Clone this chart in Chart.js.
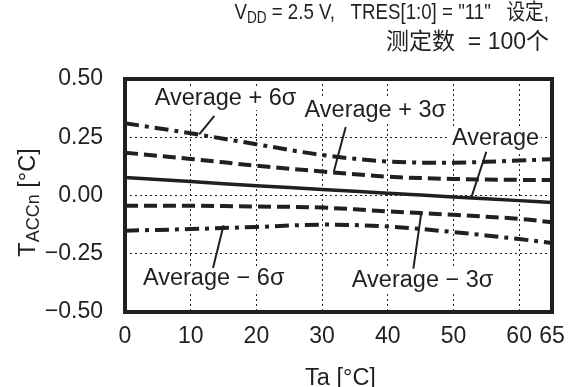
<!DOCTYPE html>
<html>
<head>
<meta charset="utf-8">
<script src="https://cdn.jsdelivr.net/npm/chart.js@4"></script>
<style>
  body { margin: 0; background: #fff; }
  #wrap { width: 579px; height: 387px; }
</style>
</head>
<body>
<div id="wrap"><canvas id="chart"></canvas></div>
<script>
// ── data (Ta in °C, T_ACCn in °C) ──
const temps   = [0, 10, 20, 30, 40, 50, 60, 65];
const plus6   = [0.310, 0.267, 0.220, 0.174, 0.146, 0.141, 0.150, 0.156];
const plus3   = [0.184, 0.157, 0.128, 0.103, 0.081, 0.071, 0.067, 0.067];
const average = [0.077, 0.060, 0.042, 0.026, 0.010, -0.006, -0.022, -0.030];
const minus3  = [-0.044, -0.044, -0.047, -0.052, -0.068, -0.083, -0.100, -0.115];
const minus6  = [-0.151, -0.144, -0.135, -0.125, -0.133, -0.157, -0.187, -0.204];

const xTicks = [0, 10, 20, 30, 40, 50, 60, 65];
const yTicks = [-0.50, -0.25, 0.00, 0.25, 0.50];

// labels with leader lines, in data units
const notes = [
  { text: 'Average + 6\u03c3', x: 15.3, y: 0.418, from: [13.6, 0.342], to: [11.3, 0.262] },
  { text: 'Average + 3\u03c3', x: 38.1, y: 0.363, from: [33.6, 0.294], to: [31.8, 0.104] },
  { text: 'Average',           x: 56.4, y: 0.243, from: [55.0, 0.188], to: [52.7, -0.010] },
  { text: 'Average \u2212 6\u03c3', x: 13.5, y: -0.357, from: [13.4, -0.311], to: [15.0, -0.128] },
  { text: 'Average \u2212 3\u03c3', x: 45.3, y: -0.365, from: [43.9, -0.314], to: [45.1, -0.075] },
];

const FONT = '"Liberation Sans", Arial, "Noto Sans CJK SC", sans-serif';
const INK = '#231f20';

const pts = arr => temps.map((t, i) => ({ x: t, y: arr[i] }));
const line = (data, dash, width) => ({
  data: pts(data), borderColor: INK, borderWidth: width, borderDash: dash,
  pointRadius: 0, tension: 0.35, fill: false,
});

const decor = {
  id: 'decor',
  beforeDatasetsDraw(chart) {
    const { ctx, scales: { x, y } } = chart;
    ctx.save();
    ctx.font = '23.5px ' + FONT;
    ctx.textAlign = 'center';
    ctx.textBaseline = 'middle';
    notes.forEach(n => {
      const px = x.getPixelForValue(n.x), py = y.getPixelForValue(n.y);
      const w = ctx.measureText(n.text).width;
      ctx.fillStyle = '#fff';
      ctx.fillRect(px - w / 2 - 2, py - 12, w + 4, 24);
      ctx.fillStyle = INK;
      ctx.fillText(n.text, px, py);
    });
    ctx.restore();
  },
  afterDatasetsDraw(chart) {
    const { ctx, scales: { x, y } } = chart;
    ctx.save();
    ctx.strokeStyle = INK;
    ctx.lineWidth = 2;
    notes.forEach(n => {
      ctx.beginPath();
      ctx.moveTo(x.getPixelForValue(n.from[0]), y.getPixelForValue(n.from[1]));
      ctx.lineTo(x.getPixelForValue(n.to[0]), y.getPixelForValue(n.to[1]));
      ctx.stroke();
    });
    ctx.restore();
  },
  afterDraw(chart) {
    const { ctx, chartArea: a } = chart;
    ctx.save();
    // frame
    ctx.strokeStyle = INK;
    ctx.lineWidth = 4;
    ctx.strokeRect(a.left, a.top, a.right - a.left, a.bottom - a.top);

    ctx.fillStyle = INK;
    ctx.textBaseline = 'alphabetic';
    // header line 1, right aligned, V_DD subscript, condensed
    const big = '22px ' + FONT, small = '16px ' + FONT;
    const parts1 = [['V', big, 0], ['DD', small, 4], [' = 2.5 V,   TRES[1:0] = "11"   设定,', big, 0]];
    let w = 0;
    parts1.forEach(p => { ctx.font = p[1]; w += ctx.measureText(p[0]).width; });
    ctx.save();
    ctx.translate(549, 0);
    ctx.scale(0.85, 1);
    let cx = -w;
    parts1.forEach(p => { ctx.font = p[1]; ctx.fillText(p[0], cx, 19 + p[2]); cx += ctx.measureText(p[0]).width; });
    ctx.restore();
    ctx.font = '23px ' + FONT;
    ctx.textAlign = 'right';
    ctx.fillText('测定数  = 100个', 549, 49);

    // x title
    ctx.font = '23.5px ' + FONT;
    ctx.textAlign = 'center';
    ctx.fillText('Ta [\u00b0C]', (a.left + a.right) / 2 + 2, 385);

    // y title, rotated, T_ACCn
    ctx.translate(35, (a.top + a.bottom) / 2 + 7);
    ctx.rotate(-Math.PI / 2);
    const parts2 = [['T', '23.5px ' + FONT, 0], ['ACCn', '18px ' + FONT, 4], [' [\u00b0C]', '23.5px ' + FONT, 0]];
    w = 0;
    parts2.forEach(p => { ctx.font = p[1]; w += ctx.measureText(p[0]).width; });
    ctx.textAlign = 'left';
    cx = -w / 2;
    parts2.forEach(p => { ctx.font = p[1]; ctx.fillText(p[0], cx, p[2]); cx += ctx.measureText(p[0]).width; });
    ctx.restore();
  }
};

new Chart(document.getElementById('chart'), {
  type: 'line',
  data: {
    datasets: [
      line(plus6, [14, 6, 4, 6], 4),
      line(plus3, [13, 6], 4),
      line(average, [], 3.5),
      line(minus3, [13, 6], 4),
      line(minus6, [14, 6, 4, 6], 4),
    ],
  },
  options: {
    responsive: true,
    maintainAspectRatio: false,
    animation: false,
    layout: { padding: { top: 79, right: 27, left: 0, bottom: 0 } },
    plugins: { legend: { display: false }, tooltip: { enabled: false } },
    scales: {
      x: {
        type: 'linear', min: 0, max: 65,
        afterBuildTicks: s => { s.ticks = xTicks.map(v => ({ value: v })); },
        afterFit: s => { s.height = 75; },
        grid: { color: INK, lineWidth: 1, drawTicks: false },
        border: { display: false, dash: [2, 3] },
        ticks: { color: INK, font: { family: FONT, size: 23 }, padding: 11, maxRotation: 0, autoSkip: false },
      },
      y: {
        min: -0.5, max: 0.5,
        afterBuildTicks: s => { s.ticks = yTicks.map(v => ({ value: v })); },
        afterFit: s => { s.width = 125; },
        grid: { color: INK, lineWidth: 1, drawTicks: false },
        border: { display: false, dash: [2, 3] },
        ticks: {
          color: INK, font: { family: FONT, size: 23 }, padding: 22,
          callback: v => (v < 0 ? '\u2212' : '') + Math.abs(v).toFixed(2),
        },
      },
    },
  },
  plugins: [decor],
});
</script>
</body>
</html>
